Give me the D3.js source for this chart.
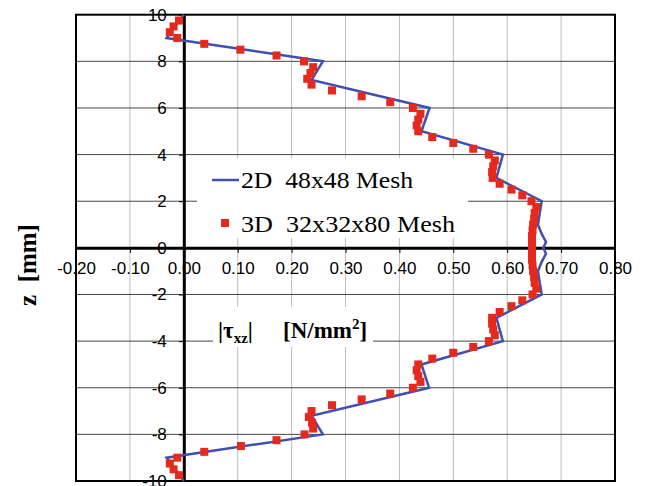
<!DOCTYPE html>
<html>
<head>
<meta charset="utf-8">
<script src="https://cdn.jsdelivr.net/npm/d3@7"></script>
<style>
  html, body { margin: 0; padding: 0; background: #fff; }
  svg { display: block; }
</style>
</head>
<body>
<svg id="chart" width="646" height="486"></svg>
<script>
// Through-thickness shear stress |tau_xz| versus z

// 2D solution, 48x48 mesh (line)
const zLine = [10, 9, 8, 7.2, 6, 5, 4, 3, 2, 1, 0.6, 0.25, 0, -0.25, -0.6, -1, -2, -3, -4, -5, -6, -7.2, -8, -9, -10];
const tauLine = [0, -0.032, 0.258, 0.237, 0.456, 0.441, 0.592, 0.580, 0.664, 0.657, 0.664, 0.672, 0.667, 0.672, 0.664, 0.657, 0.664, 0.580, 0.592, 0.441, 0.455, 0.237, 0.258, -0.032, 0];

// 3D solution, 32x32x80 mesh (markers)
const z3D = [9.75, 9.5, 9.25, 9, 8.75, 8.5, 8.25, 8, 7.75, 7.5, 7.25, 7, 6.75, 6.5, 6.25, 6,
  5.75, 5.5, 5.25, 5, 4.75, 4.5, 4.25, 4, 3.75, 3.5, 3.25, 3, 2.75, 2.5, 2.25, 2,
  1.75, 1.5, 1.25, 1, 0.75, 0.5, 0.25, 0,
  -0.25, -0.5, -0.75, -1, -1.25, -1.5, -1.75, -2, -2.25, -2.5, -2.75, -3, -3.25, -3.5, -3.75, -4,
  -4.25, -4.5, -4.75, -5, -5.25, -5.5, -5.75, -6, -6.25, -6.5, -6.75, -7, -7.25, -7.5, -7.75, -8,
  -8.25, -8.5, -8.75, -9, -9.25, -9.5, -9.75];
const tau3D = [-0.009, -0.019, -0.026, -0.012, 0.038, 0.105, 0.172, 0.223, 0.240, 0.235, 0.229, 0.237, 0.275, 0.330, 0.383, 0.425,
  0.439, 0.435, 0.432, 0.435, 0.461, 0.500, 0.537, 0.566, 0.577, 0.574, 0.572, 0.573, 0.586, 0.608, 0.628, 0.645,
  0.654, 0.651, 0.650, 0.648, 0.647, 0.646, 0.646, 0.646,
  0.646, 0.646, 0.647, 0.648, 0.650, 0.651, 0.654, 0.647, 0.628, 0.608, 0.586, 0.572, 0.572, 0.574, 0.577, 0.566,
  0.537, 0.500, 0.461, 0.435, 0.432, 0.435, 0.439, 0.425, 0.383, 0.330, 0.275, 0.237, 0.232, 0.238, 0.240, 0.224,
  0.172, 0.106, 0.038, -0.012, -0.026, -0.019, -0.009];

const xTicks = [-0.2, -0.1, 0, 0.1, 0.2, 0.3, 0.4, 0.5, 0.6, 0.7, 0.8];
const yTicks = [-10, -8, -6, -4, -2, 0, 2, 4, 6, 8, 10];
const seriesNames = ["2D  48x48 Mesh", "3D  32x32x80 Mesh"];

const blue = "#3f4fb3";
const red = "#e5291d";
const sans = "'Liberation Sans', Arial, sans-serif";
const serif = "'Liberation Serif', 'Times New Roman', serif";

const svg = d3.select("#chart");
const x = d3.scaleLinear().domain([-0.2, 0.8]).range([76, 615]);
const y = d3.scaleLinear().domain([-10, 10]).range([481, 14.7]);

// grid
svg.append("g").selectAll("line").data(xTicks.filter(v => v !== 0 && v > -0.19 && v < 0.79))
  .join("line")
  .attr("x1", d => x(d)).attr("x2", d => x(d))
  .attr("y1", y(10)).attr("y2", y(-10))
  .attr("stroke", "#bdbdbd").attr("stroke-width", 1);
svg.append("g").selectAll("line").data(yTicks.filter(v => v !== 0 && Math.abs(v) < 10))
  .join("line")
  .attr("x1", x(-0.2)).attr("x2", x(0.8))
  .attr("y1", d => y(d)).attr("y2", d => y(d))
  .attr("stroke", "#474747").attr("stroke-width", 1);

// legend and axis-title backgrounds
svg.append("rect").attr("x", 197).attr("y", 158).attr("width", 271).attr("height", 80).attr("fill", "#fff");
svg.append("rect").attr("x", 213).attr("y", 307).attr("width", 160).attr("height", 40).attr("fill", "#fff");

// plot frame
svg.append("rect")
  .attr("x", x(-0.2)).attr("y", y(10))
  .attr("width", x(0.8) - x(-0.2)).attr("height", y(-10) - y(10))
  .attr("fill", "none").attr("stroke", "#000").attr("stroke-width", 2);

// plain hyphen-minus tick labels
const fmtX = d => d3.format(".2f")(d).replace("\u2212", "-");
const fmtY = d => d3.format("d")(d).replace("\u2212", "-");

// axes through the origin
const xAxis = d3.axisBottom(x).tickValues(xTicks).tickFormat(fmtX).tickSize(5).tickSizeOuter(0);
const gx = svg.append("g").attr("transform", `translate(0,${y(0)})`).call(xAxis);
gx.select(".domain").attr("stroke-width", 3);
gx.selectAll(".tick text")
  .attr("font-family", sans)
  .attr("font-size", 17).attr("fill", "#000").attr("dy", "1.05em");

const yAxis = d3.axisLeft(y).tickValues(yTicks).tickFormat(fmtY).tickSize(5).tickPadding(12).tickSizeOuter(0);
const gy = svg.append("g").attr("transform", `translate(${x(0)},0)`).call(yAxis);
gy.select(".domain").attr("stroke-width", 3);
gy.selectAll(".tick text")
  .attr("font-family", sans)
  .attr("font-size", 17).attr("fill", "#000");

// series: 2D line
const lineData = zLine.map((z, i) => ({ z, t: tauLine[i] }));
svg.append("path")
  .datum(lineData)
  .attr("fill", "none")
  .attr("stroke", blue)
  .attr("stroke-width", 2.5)
  .attr("stroke-linejoin", "miter")
  .attr("d", d3.line().x(d => x(d.t)).y(d => y(d.z)));

// series: 3D markers
const ms = 8;
svg.append("g").selectAll("rect")
  .data(z3D.map((z, i) => ({ z, t: tau3D[i] })))
  .join("rect")
  .attr("x", d => x(d.t) - ms / 2).attr("y", d => y(d.z) - ms / 2)
  .attr("width", ms).attr("height", ms)
  .attr("fill", red);

// legend
const lg = svg.append("g")
  .attr("font-family", serif)
  .attr("font-size", 24).attr("fill", "#000");
lg.append("line").attr("x1", 212).attr("x2", 239).attr("y1", 180).attr("y2", 180)
  .attr("stroke", blue).attr("stroke-width", 2.5);
lg.append("rect").attr("x", 225 - ms / 2).attr("y", 223 - ms / 2).attr("width", ms).attr("height", ms).attr("fill", red);
lg.selectAll("text").data(seriesNames).join("text")
  .attr("x", 241).attr("y", (d, i) => 188 + i * 44)
  .attr("textLength", (d, i) => i === 0 ? 172 : 214)
  .attr("lengthAdjust", "spacingAndGlyphs")
  .style("white-space", "pre")
  .text(d => d);

// axis titles
const xt = svg.append("text")
  .attr("x", 218).attr("y", 338)
  .attr("font-family", serif)
  .attr("font-weight", "bold").attr("font-size", 23).attr("fill", "#000");
xt.append("tspan").text("|τ");
xt.append("tspan").attr("font-size", 15).attr("dy", 5).text("xz");
xt.append("tspan").attr("dy", -5).text("|");
xt.append("tspan").attr("x", 283).text("[N/mm");
xt.append("tspan").attr("font-size", 15).attr("dy", -9).text("2");
xt.append("tspan").attr("dy", 9).text("]");

svg.append("text")
  .attr("transform", `translate(36,265) rotate(-90)`)
  .attr("text-anchor", "middle")
  .attr("font-family", serif)
  .attr("font-weight", "bold").attr("font-size", 25).attr("fill", "#000")
  .style("white-space", "pre")
  .text("z  [mm]");
</script>
</body>
</html>
